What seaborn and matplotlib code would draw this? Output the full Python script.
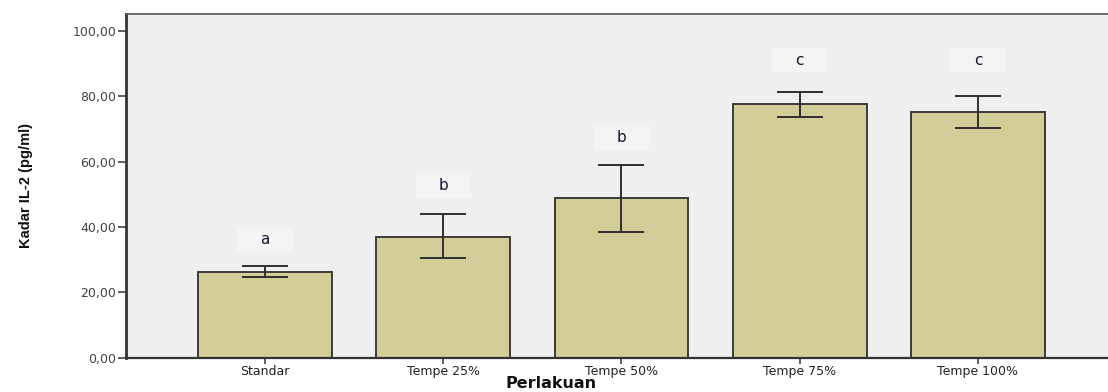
import matplotlib
matplotlib.use("Agg")
import matplotlib.pyplot as plt
from matplotlib.patches import Rectangle
from matplotlib.ticker import FuncFormatter, MultipleLocator
import seaborn as sns
import pandas as pd

# IL-2 level per treatment group (mean with error bar limits)
treatments = ["Standar", "Tempe 25%", "Tempe 50%", "Tempe 75%", "Tempe 100%"]
il2_mean = [26.3, 37.0, 48.8, 77.6, 75.1]
il2_lower = [24.6, 30.4, 38.5, 73.8, 70.4]
il2_upper = [28.1, 43.9, 59.1, 81.3, 80.1]
group_letters = ["a", "b", "b", "c", "c"]
letter_heights = [36.2, 52.6, 67.5, 91.1, 91.1]

df = pd.DataFrame({"Perlakuan": treatments, "IL2": il2_mean})

sns.set_theme(style="white")
plt.rcParams["font.family"] = ["DejaVu Sans"]

fig = plt.figure(figsize=(11.08, 3.92), dpi=100)
ax = fig.add_axes([126 / 1108, 34.3 / 392, 1 - 126 / 1108, 343.7 / 392])
ax.set_facecolor("#efefef")

sns.barplot(data=df, x="Perlakuan", y="IL2", order=treatments, color="#d3ce98",
            saturation=1, width=0.75, edgecolor="#3c3c3c", linewidth=1.4,
            errorbar=None, ax=ax)

pos = range(len(treatments))
err_low = [m - lo for m, lo in zip(il2_mean, il2_lower)]
err_high = [hi - m for m, hi in zip(il2_mean, il2_upper)]
ax.errorbar(list(pos), il2_mean, yerr=[err_low, err_high], fmt="none",
            ecolor="#2e2e2e", elinewidth=1.4, capsize=16.5, capthick=1.4, zorder=4)

# significance letters on light label boxes
for i, (letter, h) in enumerate(zip(group_letters, letter_heights)):
    ax.add_patch(Rectangle((i - 0.155, h - 3.8), 0.31, 7.6, facecolor="#f4f4f4",
                           edgecolor="none", zorder=3))
    ax.text(i, h, letter, ha="center", va="center", fontsize=11,
            color="#151530", zorder=5)

ax.set_xlim(-0.78, 4.73)
ax.set_ylim(0, 105.2)
ax.yaxis.set_major_locator(MultipleLocator(20))
ax.yaxis.set_major_formatter(FuncFormatter(lambda v, _: f"{v:.2f}".replace(".", ",")))

ax.tick_params(axis="y", which="major", direction="out", length=6, width=1.1,
               color="#333333", labelsize=9, labelcolor="#444444", left=True, pad=1)
ax.tick_params(axis="x", which="major", direction="out", length=4, width=1.1,
               color="#333333", labelsize=9, labelcolor="#222222", bottom=True, pad=1)

for side in ["left", "bottom", "top"]:
    ax.spines[side].set_visible(True)
ax.spines["right"].set_visible(False)
ax.spines["left"].set_color("#333333")
ax.spines["left"].set_linewidth(2.0)
ax.spines["bottom"].set_color("#333333")
ax.spines["bottom"].set_linewidth(1.6)
ax.spines["top"].set_color("#555555")
ax.spines["top"].set_linewidth(1.2)

ax.set_xlabel("Perlakuan", fontsize=11.5, fontweight="bold", color="#111111")
ax.xaxis.set_label_coords(0.433, -0.052)
ax.set_ylabel("Kadar IL-2 (pg/ml)", fontsize=10.5, fontweight="bold", color="#111111",
              family=["Liberation Sans", "DejaVu Sans"])
ax.yaxis.set_label_coords(-0.095, 0.5)

fig.savefig("out.png", dpi=100)
